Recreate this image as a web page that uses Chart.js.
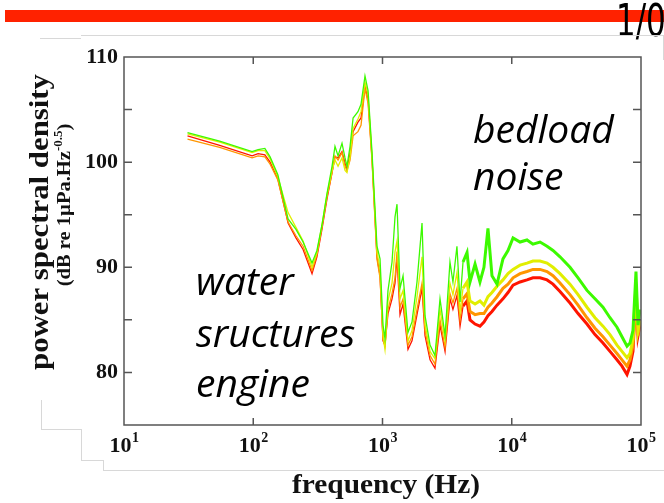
<!DOCTYPE html>
<html>
<head>
<meta charset="utf-8">
<script src="https://cdn.jsdelivr.net/npm/chart.js@4.4.1/dist/chart.umd.min.js"></script>
<style>
  html, body { margin: 0; padding: 0; background: #fff; }
  #wrap { position: relative; width: 664px; height: 503px; overflow: hidden; background: #fff; }
  #psd { position: absolute; left: 0; top: 0; }
  .note { position: absolute; font-family: "Open Sans", sans-serif; font-style: italic; font-size: 39px; line-height: 39px; color: #000; white-space: nowrap; }
  .rule { position: absolute; background: #d8d8d8; }
  #redbar { position: absolute; left: 5px; top: 10px; width: 659px; height: 12px; background: #ff2200; }
  #page { position: absolute; left: 616px; top: -1px; font-family: "Liberation Sans Narrow", "DejaVu Sans Condensed", sans-serif; font-size: 44px; line-height: 44px; color: #000; transform: scaleX(0.78); transform-origin: left top; }
</style>
</head>
<body>
<div id="wrap">
  <canvas id="psd" width="664" height="503"></canvas>
  <div id="redbar"></div>
  <div id="page">1/0</div>
  <div class="rule" style="left:81px;top:35px;width:583px;height:1px"></div>
  <div class="rule" style="left:40px;top:38px;width:41px;height:1px"></div>
  <div class="rule" style="left:663px;top:36px;width:1px;height:24px"></div>
  <div class="rule" style="left:41px;top:400px;width:1px;height:29px"></div>
  <div class="rule" style="left:41px;top:429px;width:40px;height:1px"></div>
  <div class="rule" style="left:81px;top:429px;width:1px;height:31px"></div>
  <div class="rule" style="left:81px;top:460px;width:22px;height:1px"></div>
  <div class="rule" style="left:103px;top:460px;width:1px;height:10px"></div>
  <div class="rule" style="left:103px;top:470px;width:561px;height:1px"></div>
  <div class="note" style="left:473px;top:108px">bedload</div>
  <div class="note" style="left:473px;top:155px">noise</div>
  <div class="note" style="left:196px;top:260px">water</div>
  <div class="note" style="left:196px;top:312px">sructures</div>
  <div class="note" style="left:196px;top:362px">engine</div>
</div>
<script>
"use strict";

// frequency (Hz) of each sample
const freqHz = [
  31, 55, 98, 109, 123, 135, 155, 186, 214, 243,
  285, 311, 340, 372, 407, 429, 453, 486, 513, 531,
  561, 592, 646, 682, 732, 773, 829, 906, 957, 1009,
  1045, 1103, 1185, 1250, 1295, 1366, 1442, 1575, 1691, 1849,
  2022, 2133, 2333, 2547, 2786, 3048, 3327, 3508, 3767, 3981,
  4198, 4508, 4753, 5200, 5675, 6095, 6546, 7031, 7691, 8551,
  9354, 10230, 11590, 13120, 14590, 16550, 18750, 20850, 23620, 28230,
  32580, 38200, 44060, 50800, 57540, 65180, 71270, 77940, 82200, 86700,
  91450, 94800, 98200
];

// PSD in dB re 1uPa.Hz^-0.5
const greenPsd = [
  102.8, 102.0, 101.0, 101.2, 101.3, 100.5, 98.8, 94.6, 93.6, 92.4,
  90.4, 91.6, 94.0, 97.0, 99.6, 101.5, 100.6, 101.8, 100.4, 99.6,
  101.5, 104.2, 104.8, 105.5, 108.2, 106.8, 101.0, 92.0, 90.8, 84.5,
  83.2, 87.8, 90.5, 94.8, 96.0, 88.0, 89.2, 83.8, 84.8, 88.6,
  94.2, 85.4, 82.6, 81.6, 87.0, 83.5, 90.5, 88.6, 92.0, 86.7,
  90.5, 91.4, 88.6, 90.3, 88.6, 90.0, 93.7, 89.2, 88.4, 90.8,
  91.6, 92.8, 92.4, 92.6, 92.2, 92.4, 92.0, 91.6, 91.0, 90.0,
  89.0, 87.8, 87.0, 86.2, 85.2, 84.3, 83.4, 82.5, 82.8, 84.0,
  89.6, 84.5, 86.0
];
const yellowPsd = [
  102.7, 101.9, 100.9, 101.1, 101.1, 100.3, 98.6, 95.2, 93.8, 92.5,
  90.0, 91.4, 94.0, 96.9, 99.2, 100.2, 99.6, 100.4, 99.2, 99.0,
  100.5, 103.2, 104.1, 104.8, 107.6, 106.4, 100.6, 91.5, 89.8, 83.5,
  82.2, 86.8, 88.5, 91.5, 92.5, 87.0, 87.8, 83.0, 84.0, 87.2,
  91.0, 84.6, 82.0, 81.3, 86.0, 83.0, 88.5, 87.4, 89.5, 85.8,
  88.0, 88.6, 86.8, 86.5, 86.8, 86.4, 87.2, 87.6, 88.2, 88.8,
  89.4, 89.8, 90.2, 90.4, 90.6, 90.6, 90.4, 90.0, 89.4, 88.4,
  87.4, 86.2, 85.2, 84.4, 83.6, 82.6, 82.0, 81.4, 81.8, 83.2,
  88.4, 84.0, 85.0
];
const orangePsd = [
  102.2, 101.4, 100.4, 100.6, 100.5, 99.8, 98.3, 94.3, 93.0, 92.0,
  89.7, 91.2, 93.8, 96.7, 99.0, 100.6, 100.2, 100.9, 99.6, 99.2,
  100.2, 102.5, 102.9, 103.5, 107.0, 105.6, 100.2, 90.8, 89.0, 83.2,
  82.5, 86.0, 87.5, 89.0, 91.5, 86.2, 87.0, 82.6, 83.4, 86.0,
  88.5, 84.0, 81.6, 80.8, 85.0, 82.4, 87.5, 86.6, 88.0, 85.0,
  87.0, 87.5, 85.8, 85.5, 85.6, 85.6, 86.2, 86.6, 87.2, 88.0,
  88.4, 89.0, 89.4, 89.6, 89.8, 89.8, 89.6, 89.2, 88.5, 87.4,
  86.4, 85.2, 84.2, 83.4, 82.6, 81.8, 81.2, 80.6, 81.2, 82.6,
  87.5, 83.5, 85.0
];
const redPsd = [
  102.5, 101.6, 100.6, 100.8, 100.7, 100.0, 98.4, 94.2, 92.8, 91.7,
  89.4, 91.0, 93.6, 96.5, 99.0, 100.5, 100.4, 101.0, 99.9, 99.3,
  100.8, 102.9, 103.8, 104.2, 107.2, 106.0, 100.4, 91.0, 89.2, 83.0,
  82.6, 85.6, 87.0, 88.5, 91.0, 85.5, 86.5, 82.2, 83.0, 85.5,
  88.0, 83.5, 81.2, 80.4, 84.5, 82.0, 87.0, 86.0, 87.3, 84.4,
  86.3, 86.8, 85.0, 84.6, 84.4, 84.8, 85.4, 85.8, 86.4, 87.0,
  87.6, 88.3, 88.6, 88.8, 89.0, 89.0, 88.8, 88.4, 87.7, 86.6,
  85.6, 84.6, 83.6, 82.8, 82.0, 81.2, 80.6, 79.8, 80.6, 82.0,
  87.8, 83.5, 84.5
];

// axis ticks
const xTickValues = [10, 100, 1000, 10000, 100000];
const xTickExponents = ['1', '2', '3', '4', '5'];
const yTickValues = [80, 85, 90, 95, 100, 105];
const yTickLabels = [80, 90, 100, 110];

const serif = '"Liberation Serif", "Times New Roman", serif';

function points(values) {
  return freqHz.map((f, i) => ({x: f, y: values[i]}));
}

function series(label, values, color, order) {
  return {
    label: label,
    data: points(values),
    borderColor: color,
    borderWidth: 1.3,
    pointRadius: 0,
    tension: 0,
    order: order,
    segment: {
      borderWidth: c => (c.p0.parsed.x > 4000 ? 3 : 1.3)
    }
  };
}

function drawStretched(ctx, text, x, y, stretch) {
  ctx.save();
  ctx.translate(x, y);
  ctx.scale(stretch, 1);
  ctx.fillText(text, 0, 0);
  ctx.restore();
}

const framePlugin = {
  id: 'frame',
  afterDraw(chart) {
    const ctx = chart.ctx;
    const a = chart.chartArea;
    const x = chart.scales.x;
    const y = chart.scales.y;
    ctx.save();

    // box and inward ticks
    ctx.strokeStyle = '#555';
    ctx.lineWidth = 1.5;
    ctx.strokeRect(a.left, a.top, a.right - a.left, a.bottom - a.top);
    ctx.beginPath();
    xTickValues.slice(1, -1).forEach(v => {
      const px = x.getPixelForValue(v);
      ctx.moveTo(px, a.bottom); ctx.lineTo(px, a.bottom - 7);
      ctx.moveTo(px, a.top); ctx.lineTo(px, a.top + 7);
    });
    yTickValues.forEach(v => {
      const py = y.getPixelForValue(v);
      ctx.moveTo(a.left, py); ctx.lineTo(a.left + 8, py);
      ctx.moveTo(a.right, py); ctx.lineTo(a.right - 8, py);
    });
    ctx.stroke();

    // x tick labels 10^n
    ctx.fillStyle = '#111';
    ctx.textBaseline = 'alphabetic';
    ctx.textAlign = 'left';
    xTickValues.forEach((v, i) => {
      const px = x.getPixelForValue(v);
      ctx.font = 'bold 22px ' + serif;
      const w1 = ctx.measureText('10').width;
      ctx.font = 'bold 14px ' + serif;
      const w2 = ctx.measureText(xTickExponents[i]).width;
      const left = px - (w1 + w2) / 2;
      ctx.font = 'bold 22px ' + serif;
      ctx.fillText('10', left, 452);
      ctx.font = 'bold 14px ' + serif;
      ctx.fillText(xTickExponents[i], left + w1 + 0.5, 442);
    });

    // x title
    ctx.textAlign = 'center';
    ctx.font = 'bold 28px ' + serif;
    drawStretched(ctx, 'frequency (Hz)', 386, 493, 1.05);

    // y title, two lines
    ctx.save();
    ctx.translate(48, 222);
    ctx.rotate(-Math.PI / 2);
    ctx.scale(1.1, 1);
    ctx.font = 'bold 28px ' + serif;
    ctx.fillText('power spectral density', 0, 0);
    ctx.restore();

    ctx.save();
    ctx.translate(70, 205);
    ctx.rotate(-Math.PI / 2);
    ctx.scale(1.08, 1);
    ctx.textAlign = 'left';
    const main = '(dB re 1\u00b5Pa.Hz';
    const sup = '-0.5';
    ctx.font = 'bold 19px ' + serif;
    const wm = ctx.measureText(main).width;
    const wc = ctx.measureText(')').width;
    ctx.font = 'bold 12px ' + serif;
    const ws = ctx.measureText(sup).width;
    let cx = -(wm + ws + wc) / 2;
    ctx.font = 'bold 19px ' + serif;
    ctx.fillText(main, cx, 0);
    cx += wm;
    ctx.font = 'bold 12px ' + serif;
    ctx.fillText(sup, cx, -8);
    cx += ws;
    ctx.font = 'bold 19px ' + serif;
    ctx.fillText(')', cx, 0);
    ctx.restore();

    ctx.restore();
  }
};

new Chart(document.getElementById('psd'), {
  type: 'line',
  data: {
    datasets: [
      series('green', greenPsd, 'rgb(60, 250, 0)', 0),
      series('yellow', yellowPsd, 'rgb(225, 238, 0)', 1),
      series('orange', orangePsd, 'rgb(255, 150, 0)', 2),
      series('red', redPsd, 'rgb(255, 20, 0)', 3)
    ]
  },
  options: {
    responsive: false,
    animation: false,
    layout: {padding: {top: 57, right: 23, left: 0, bottom: 0}},
    plugins: {legend: {display: false}, tooltip: {enabled: false}},
    scales: {
      x: {
        type: 'logarithmic',
        min: 10,
        max: 100000,
        afterFit(s) { s.height = 78; },
        ticks: {display: false},
        grid: {display: false},
        border: {display: false}
      },
      y: {
        type: 'linear',
        min: 75,
        max: 110,
        afterFit(s) { s.width = 124; },
        ticks: {
          stepSize: 5,
          padding: 6,
          color: '#111',
          font: {family: serif, size: 22, weight: 'bold'},
          callback: v => (yTickLabels.includes(v) ? v : '')
        },
        grid: {display: false, drawTicks: false},
        border: {display: false}
      }
    }
  },
  plugins: [framePlugin]
});
</script>
</body>
</html>
